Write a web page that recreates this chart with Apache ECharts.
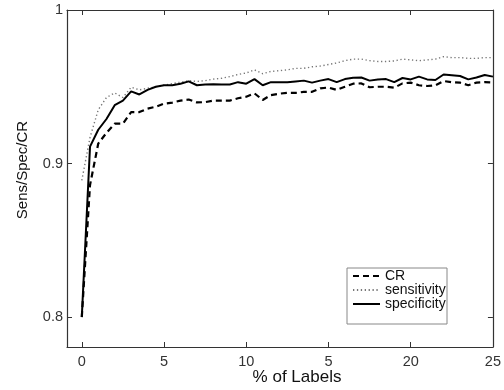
<!DOCTYPE html>
<html>
<head>
<meta charset="utf-8">
<script src="https://cdn.jsdelivr.net/npm/echarts@6/dist/echarts.min.js"></script>
<style>
html,body{margin:0;padding:0;background:#fff;}
#chart{width:504px;height:390px;}
</style>
</head>
<body>
<div id="chart"></div>
<script>
var xValues = [0,0.5,1,1.5,2,2.5,3,3.5,4,4.5,5,5.5,6,6.5,7,7.5,8,8.5,9,9.5,10,10.5,11,11.5,12,12.5,13,13.5,14,14.5,15,15.5,16,16.5,17,17.5,18,18.5,19,19.5,20,20.5,21,21.5,22,22.5,23,23.5,24,24.5,25];
var crValues = [0.800,0.886,0.913,0.920,0.926,0.926,0.9335,0.9335,0.9358,0.937,0.939,0.9397,0.941,0.9417,0.9398,0.940,0.941,0.941,0.941,0.9425,0.9435,0.9457,0.9414,0.9446,0.9455,0.946,0.946,0.9467,0.9467,0.949,0.9495,0.948,0.950,0.952,0.9522,0.9497,0.950,0.950,0.9494,0.9522,0.9527,0.951,0.9505,0.951,0.9537,0.953,0.9527,0.951,0.9527,0.953,0.9527];
var sensitivityValues = [0.889,0.917,0.935,0.943,0.946,0.943,0.9497,0.948,0.949,0.950,0.951,0.952,0.953,0.954,0.9535,0.954,0.955,0.9555,0.9566,0.958,0.959,0.961,0.9585,0.960,0.9605,0.961,0.962,0.962,0.963,0.9635,0.9645,0.9655,0.967,0.968,0.968,0.967,0.9665,0.9665,0.9668,0.968,0.9675,0.967,0.9675,0.968,0.9696,0.969,0.969,0.9685,0.9685,0.969,0.969];
var specificityValues = [0.800,0.911,0.922,0.929,0.938,0.941,0.947,0.945,0.948,0.950,0.951,0.951,0.952,0.9535,0.951,0.9515,0.9517,0.9515,0.9515,0.953,0.952,0.955,0.951,0.953,0.953,0.953,0.9535,0.954,0.9527,0.954,0.955,0.953,0.955,0.9558,0.956,0.954,0.9548,0.955,0.953,0.9557,0.9548,0.9566,0.9548,0.9544,0.958,0.9575,0.957,0.9548,0.956,0.9577,0.9566];
var xTickValues = [0,5,10,15,20,25];
var xTickLabels = ['0','5','10','5','20','25'];
var yTickValues = [0.8,0.9,1];
var yTickLabels = ['0.8','0.9','1'];
var seriesNames = ['CR','sensitivity','specificity'];

function pairs(ys){ return xValues.map(function(x,i){ return [x, ys[i]]; }); }

var FONT = 'Liberation Sans, Arial, sans-serif';
var frame = {show:true, onZero:false, lineStyle:{color:'#333', width:1.2}};
var chart = echarts.init(document.getElementById('chart'), null, {renderer:'canvas'});
chart.setOption({
  animation:false,
  backgroundColor:'#fff',
  grid:{left:67, right:8, top:10, bottom:43, containLabel:false},
  xAxis:[{
    type:'value', min:-0.9, max:25, position:'bottom',
    axisLine:frame, splitLine:{show:false},
    axisTick:{show:true, inside:true, length:5, customValues:xTickValues, lineStyle:{color:'#333'}},
    axisLabel:{show:true, customValues:xTickValues, margin:7, color:'#333', fontSize:14.5, fontFamily:FONT,
      formatter:function(v){ var i=xTickValues.indexOf(v); return i>=0?xTickLabels[i]:''; }}
  },{
    type:'value', min:-0.9, max:25, position:'top',
    axisLine:frame, splitLine:{show:false},
    axisTick:{show:true, inside:true, length:5, customValues:xTickValues, lineStyle:{color:'#333'}},
    axisLabel:{show:false}
  }],
  yAxis:[{
    type:'value', min:0.7805, max:1, position:'left',
    axisLine:frame, splitLine:{show:false},
    axisTick:{show:true, inside:true, length:5, customValues:yTickValues, lineStyle:{color:'#333'}},
    axisLabel:{show:true, customValues:yTickValues, margin:4, color:'#333', fontSize:14.5, fontFamily:FONT,
      formatter:function(v){ for(var i=0;i<yTickValues.length;i++){ if(Math.abs(yTickValues[i]-v)<1e-9) return yTickLabels[i]; } return ''; }}
  },{
    type:'value', min:0.7805, max:1, position:'right',
    axisLine:frame, splitLine:{show:false},
    axisTick:{show:true, inside:true, length:5, customValues:yTickValues, lineStyle:{color:'#333'}},
    axisLabel:{show:false}
  }],
  legend:{
    show:true, orient:'vertical', left:352, top:269, z:10,
    itemWidth:27, itemHeight:16, itemGap:0, padding:0,
    itemStyle:{opacity:0},
    textStyle:{fontSize:14, color:'#111', fontFamily:FONT},
    data:seriesNames
  },
  graphic:[
    {type:'rect', z:5, shape:{x:347, y:268, width:100, height:56}, style:{fill:'#fff', stroke:'#888', lineWidth:1}},
    {type:'text', z:5, x:297, y:377, style:{text:'% of Labels', fill:'#111', font:'17px '+FONT, textAlign:'center', textVerticalAlign:'middle'}},
    {type:'text', z:5, x:22.5, y:170, rotation:Math.PI/2, style:{text:'Sens/Spec/CR', fill:'#111', font:'15px '+FONT, textAlign:'center', textVerticalAlign:'middle'}}
  ],
  series:[
    {name:seriesNames[0], type:'line', data:pairs(crValues), symbol:'none', showSymbol:false,
     lineStyle:{color:'#000', width:2.2, type:[6,4]}, itemStyle:{color:'#000'}},
    {name:seriesNames[1], type:'line', data:pairs(sensitivityValues), symbol:'none', showSymbol:false,
     lineStyle:{color:'#777', width:1.4, type:[1.3,2.6]}, itemStyle:{color:'#777'}},
    {name:seriesNames[2], type:'line', data:pairs(specificityValues), symbol:'none', showSymbol:false,
     lineStyle:{color:'#000', width:2}, itemStyle:{color:'#000'}}
  ]
});
</script>
</body>
</html>
